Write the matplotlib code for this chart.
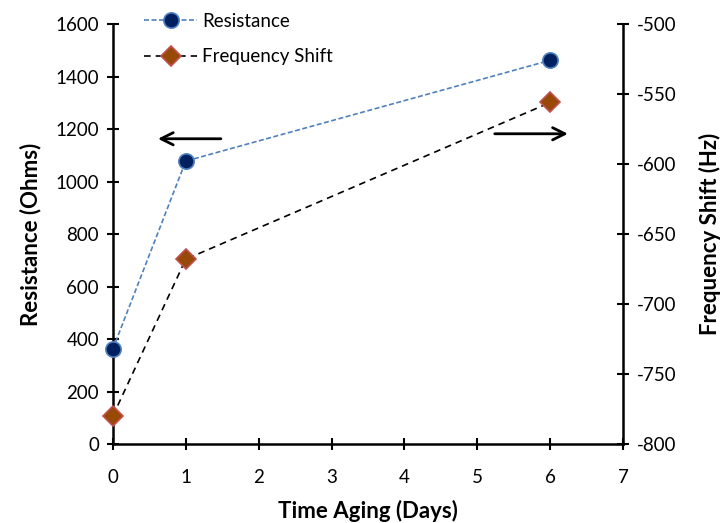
import numpy as np
import matplotlib
matplotlib.use("Agg")
import matplotlib.pyplot as plt

plt.rcParams['font.family'] = ['Lato', 'DejaVu Sans']
plt.rcParams['axes.unicode_minus'] = False

# data
days = [0, 1, 6]
resistance = [362, 1078, 1462]
freq_shift = [-780, -668, -556]

x_ticks = [0, 1, 2, 3, 4, 5, 6, 7]
res_ticks = [0, 200, 400, 600, 800, 1000, 1200, 1400, 1600]
freq_ticks = [-800, -750, -700, -650, -600, -550, -500]

fig = plt.figure(figsize=(7.28, 5.23), dpi=100)
ax = fig.add_axes([0.155, 0.151, 0.701, 0.803])
ax2 = ax.twinx()

l1, = ax.plot(days, resistance, linestyle=(0, (3, 1.5)), color='#4F81BD', lw=1.2,
              marker='o', markersize=11, markerfacecolor='#002060',
              markeredgecolor='#4F81BD', markeredgewidth=1.2, label='Resistance',
              zorder=3, clip_on=False)
l2, = ax2.plot(days, freq_shift, linestyle=(0, (4, 3)), color='black', lw=1.2,
               marker='D', markersize=10, markerfacecolor='#984807',
               markeredgecolor='#C0504D', markeredgewidth=1.2, label='Frequency Shift',
               zorder=3, clip_on=False)

ax.set_xlim(0, 7)
ax.set_ylim(0, 1600)
ax2.set_ylim(-800, -500)
ax.set_xticks(x_ticks)
ax.set_yticks(res_ticks)
ax2.set_yticks(freq_ticks)

for a in (ax, ax2):
    a.spines['top'].set_visible(False)
    for s in a.spines.values():
        s.set_linewidth(1.8)
    a.tick_params(direction='inout', length=8, width=1.5, labelsize=13.5, pad=6)
ax.spines['right'].set_visible(False)
ax2.spines['left'].set_visible(False)
ax2.spines['bottom'].set_visible(False)
ax.tick_params(axis='x', pad=14)

ax.set_xlabel('Time Aging (Days)', fontsize=16, fontweight='bold', labelpad=10)
ax.set_ylabel('Resistance (Ohms)', fontsize=16, fontweight='bold', labelpad=10)
ax2.set_ylabel('Frequency Shift (Hz)', fontsize=16, fontweight='bold', labelpad=16)

# arrows pointing to each axis
ax.annotate('', xy=(0.58, 1163), xytext=(1.52, 1163),
            arrowprops=dict(arrowstyle='->', lw=2, color='black', mutation_scale=22))
ax.annotate('', xy=(6.28, 1182), xytext=(5.2, 1182),
            arrowprops=dict(arrowstyle='->', lw=2, color='black', mutation_scale=22))

fig.legend(handles=[l1, l2], loc='upper left', bbox_to_anchor=(0.175, 1.008),
           frameon=False, fontsize=13.5, handlelength=2.8, labelspacing=1.0,
           handletextpad=0.3)

fig.savefig('out.png', dpi=100)
